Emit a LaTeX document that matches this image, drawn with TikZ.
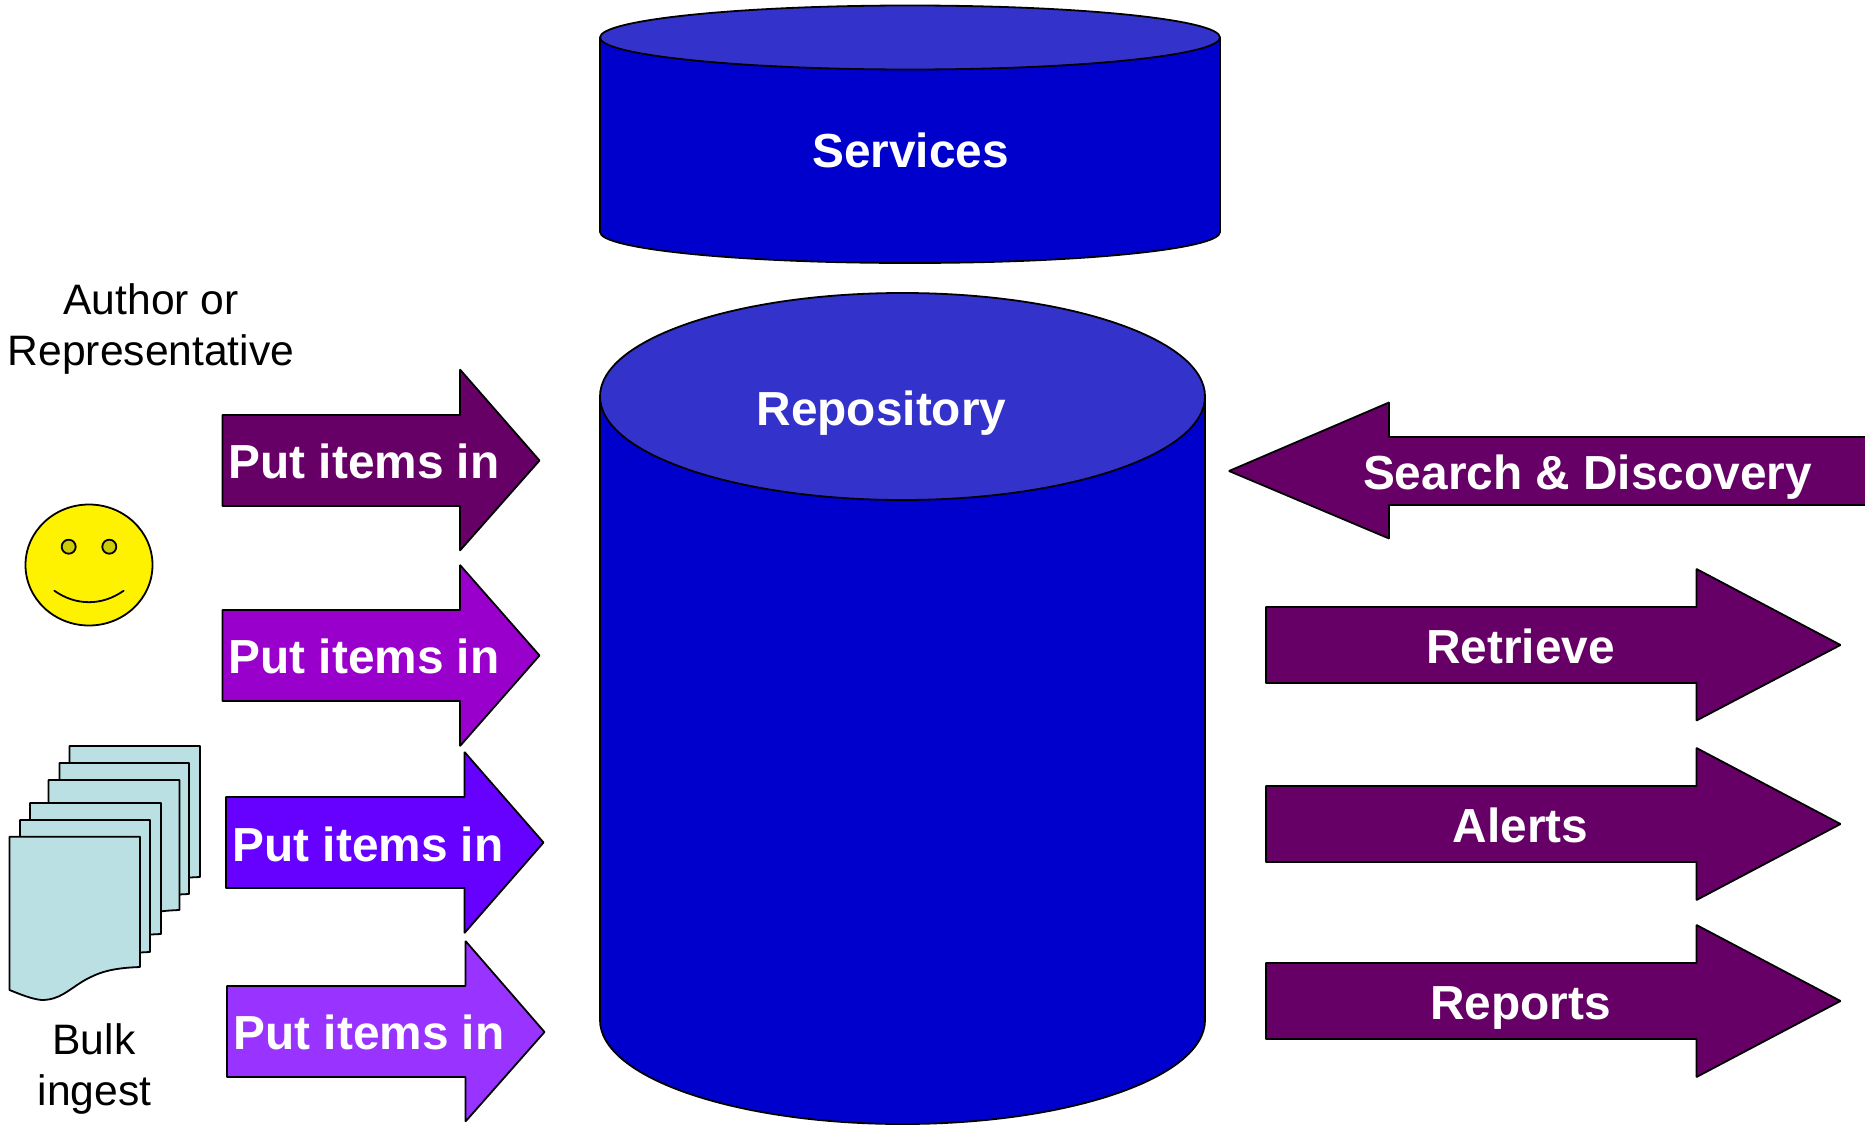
\documentclass[tikz,border=0pt]{standalone}
\usepackage{fontspec}
\setmainfont{Liberation Sans}
\tikzset{
  shp/.style={draw=black,line width=1.8pt,line join=bevel},
  lab/.style={anchor=base,inner sep=0pt,text=white,font=\fontsize{47.8}{50}\selectfont\bfseries},
  note/.style={anchor=base,inner sep=0pt,text=black,align=center,font=\fontsize{42.6}{50.6}\selectfont},
  page/.style={shp,fill=docblue}
}
\definecolor{dkblue}{HTML}{0000CC}
\definecolor{ltblue}{HTML}{3333CC}
\definecolor{plum}{HTML}{660066}
\definecolor{vio}{HTML}{9900CC}
\definecolor{ind}{HTML}{6600FF}
\definecolor{lav}{HTML}{9933FF}
\definecolor{docblue}{HTML}{BBE0E3}
\definecolor{eye}{HTML}{CCCC00}
% left x, shaft top, shaft bottom, head x, head top, head bottom, tip x, tip y, colour
\newcommand{\rarrow}[9]{\draw[shp,fill=#9] (#1,#2)--(#4,#2)--(#4,#5)--(#7,#8)--(#4,#6)--(#4,#3)--(#1,#3)--cycle;}
% x left, x right, top, right bottom, left bottom
\newcommand{\docpage}[5]{\draw[page] (#1,#3)--(#2,#3)--(#2,#4)
  .. controls ({#2-30},{#4+1}) and ({#2-42},{#4+6}) .. ({#2-55},{#4+13})
  .. controls ({#2-72},{#4+23}) and ({#2-80},{#4+33}) .. ({#1+32},{#5+10})
  .. controls ({#1+22},{#5+9}) and ({#1+10},{#5+4}) .. (#1,#5)--cycle;}
\begin{document}
\begin{tikzpicture}[x=1pt,y=-1pt]
\useasboundingbox (0,0) rectangle (1865,1124);
\clip (0,0) rectangle (1865,1124);
% Services cylinder
\draw[shp,fill=dkblue] (600,37.5)--(600,232) arc[x radius=310,y radius=31,start angle=180,end angle=0] -- (1220,37.5)--cycle;
\draw[shp,fill=ltblue] (910,37.5) ellipse[x radius=310,y radius=32];
\node[lab] (services) at (910.5,167.5) {Services};
% Repository cylinder
\draw[shp,fill=dkblue] (600,396.5)--(600,1020) arc[x radius=302.5,y radius=104,start angle=180,end angle=0] -- (1205,396.5)--cycle;
\draw[shp,fill=ltblue] (902.5,396.5) ellipse[x radius=302.5,y radius=103.5];
\node[lab] (repo) at (881.5,425.5) {Repository};
% left arrows
\rarrow{222.5}{415}{506}{460}{369.5}{550.5}{539.5}{460.5}{plum}
\rarrow{222.5}{610}{701}{460}{565}{746}{539.5}{655.5}{vio}
\rarrow{226}{797}{888}{464.5}{752}{933}{543.5}{842.5}{ind}
\rarrow{227}{986}{1077}{465.5}{941}{1121.5}{544.5}{1032}{lav}
\node[lab] (p1) at (364,478.5) {Put items in};
\node[lab] (p2) at (364,673.5) {Put items in};
\node[lab] (p3) at (368,861.5) {Put items in};
\node[lab] (p4) at (369,1049.5) {Put items in};
% right arrows
\draw[shp,fill=plum] (1870,437)--(1389,437)--(1389,402.5)--(1229,471)--(1389,538.5)--(1389,505)--(1870,505);
\rarrow{1266}{607}{683}{1696.5}{569}{720.5}{1840.5}{645}{plum}
\rarrow{1266}{786}{862}{1696.5}{748}{900}{1840.5}{824}{plum}
\rarrow{1266}{963}{1039}{1696.5}{925}{1077}{1840.5}{1001}{plum}
\node[lab] (search) at (1587.5,489) {Search \& Discovery};
\node[lab] (retrieve) at (1520.5,663.5) {Retrieve};
\node[lab] (alerts) at (1520.5,842.5) {Alerts};
\node[lab] (reports) at (1520.5,1019.5) {Reports};
% smiley
\draw[shp,fill=yellow] (89,565) ellipse[x radius=63.5,y radius=60.5];
\draw[shp,fill=eye] (68.7,546.7) circle[radius=7];
\draw[shp,fill=eye] (109.3,546.7) circle[radius=7];
\draw[shp,line cap=round] (54.3,590.7) .. controls (76,606) and (102,606) .. (123.7,590.7);
% documents
\docpage{69.5}{200}{746}{877}{900}
\docpage{59.5}{189}{763}{894}{917}
\docpage{48.5}{179.5}{780}{910}{933}
\docpage{30}{161}{803}{934}{957}
\docpage{20}{150}{820}{952}{975}
\docpage{9.5}{140}{836.7}{967}{990}
% captions
\node[note] (author) at (151,314) {Author or};
\node[note] (rep) at (151,365) {Representative};
\node[note] (bulk) at (94,1054) {Bulk};
\node[note] (ingest) at (94.5,1105) {ingest};
\end{tikzpicture}
\end{document}
